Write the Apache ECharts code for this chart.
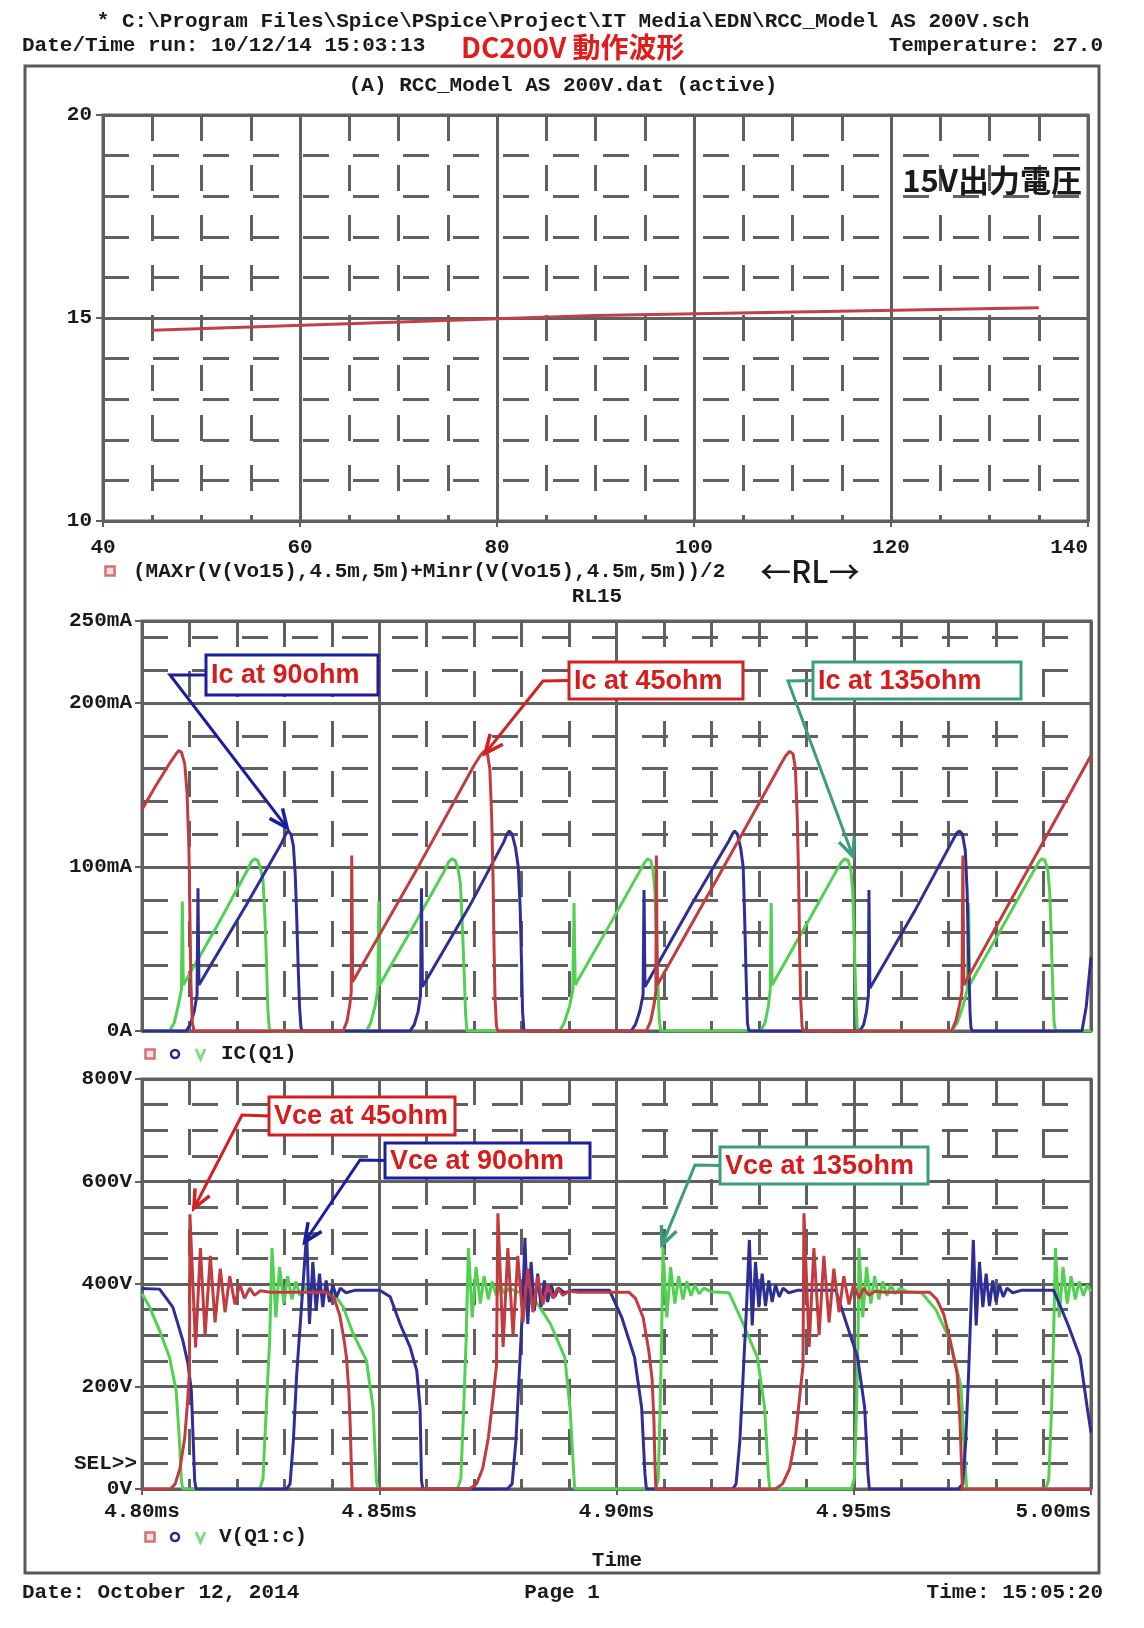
<!DOCTYPE html>
<html><head><meta charset="utf-8">
<script src="https://cdn.jsdelivr.net/npm/echarts@6/dist/echarts.min.js"></script>
<style>html,body{margin:0;padding:0;background:#fff;}#c{width:1144px;height:1628px;}</style>
</head><body><div id="c"></div>
<script>
// ---------------- DATA ----------------
// Top plot: average of Vo15 vs load resistance RL
const rlValues = [45, 90, 135];
const vo15Avg = [14.70, 15.06, 15.25];
const rlTickLabels = ['40', '60', '80', '100', '120', '140'];
const voTickLabels = ['10', '15', '20'];

// Time axis: microseconds after 4.80 ms
const timeTickLabels = ['4.80ms', '4.85ms', '4.90ms', '4.95ms', '5.00ms'];
const icTickValues = [0, 100, 200, 250];
const icTickLabels = ['0A', '100mA', '200mA', '250mA'];
const vceTickValues = [0, 200, 400, 600, 800];
const vceTickLabels = ['0V', '200V', '400V', '600V', '800V'];

// IC(Q1) [t(us), mA]
const ic45 = [[0,135],[3,150],[6,164],[7.2,169],[7.7,171],[8.3,170],[9.0,163],[9.5,145],[9.9,110],[10.1,70],[10.3,30],[10.6,5],[11,0],[42.4,0],[43.2,6],[43.8,16],[44.1,24],[44.2,107],[44.35,107],[44.4,30],[44.6,30],[58,99],[70,162],[71.3,168],[72.1,170.5],[72.8,169],[73.3,160],[73.7,130],[74,90],[74.2,50],[74.4,20],[74.7,3],[75,0],[106.3,0],[107.2,6],[107.9,16],[108.3,24],[108.4,107],[108.55,107],[108.6,28],[108.8,28],[122,97],[134.5,162],[135.7,168],[136.5,170.5],[137.2,169],[137.7,160],[138.1,130],[138.4,90],[138.6,50],[138.8,20],[139.1,3],[139.4,0],[170.6,0],[171.5,6],[172.3,16],[172.8,24],[173,107],[173.15,107],[173.2,28],[173.4,28],[187,100],[200,168]];
const ic90 = [[0,0],[9.3,0],[10.2,4],[11.0,12],[11.6,22],[11.8,87],[11.95,87],[12.0,28],[12.2,28],[22,77],[29.5,115],[30.3,120],[30.8,122],[31.4,120],[31.9,113],[32.3,95],[32.6,70],[32.9,40],[33.2,15],[33.5,2],[33.8,0],[56.5,0],[57.4,4],[58.2,12],[58.7,22],[58.9,87],[59.05,87],[59.1,27],[59.3,27],[69,76],[76.2,115],[76.9,120],[77.4,122],[78,120],[78.7,112],[79.3,100],[79.7,75],[80,40],[80.2,12],[80.5,0],[103.1,0],[104,4],[104.9,12],[105.6,22],[105.8,86],[105.95,86],[106,27],[106.3,28],[116,78],[123.7,116],[124.4,120],[124.9,122],[125.5,120],[126.2,111],[126.7,100],[127,70],[127.3,35],[127.6,5],[127.9,0],[151.3,0],[152.1,4],[152.7,12],[153.1,22],[153.2,86],[153.35,86],[153.4,26],[153.6,27],[163,74],[171,117],[171.8,121],[172.3,122],[172.9,120],[173.5,110],[173.9,85],[174.2,45],[174.5,12],[174.7,2],[175,0],[198.1,0],[199,15],[200,45]];
const ic135 = [[0,0],[5.8,0],[6.8,5],[7.6,15],[8.3,25],[8.5,79],[8.65,79],[8.7,28],[8.9,28],[16,65],[22.2,98],[23.0,103],[23.7,105],[24.4,104],[25.0,99],[25.5,92],[25.9,70],[26.2,45],[26.5,15],[26.8,2],[27.1,0],[47.3,0],[48.2,5],[49.1,15],[49.7,25],[49.9,79],[50.05,79],[50.1,28],[50.3,28],[58,68],[63.8,98],[64.6,103],[65.3,105],[66,104],[66.6,99],[67.1,90],[67.5,65],[67.9,35],[68.2,10],[68.5,0],[88,0],[89,5],[90.1,15],[90.8,25],[91.05,78],[91.2,78],[91.3,28],[91.5,28],[99,67],[105.2,99],[106,103],[106.6,105],[107.2,104],[107.7,98],[108.1,85],[108.4,60],[108.7,30],[109,8],[109.3,0],[130.4,0],[131.3,5],[132,15],[132.4,25],[132.6,78],[132.75,78],[132.8,28],[133,28],[141,70],[146.6,99],[147.4,103],[148.1,105],[148.8,104],[149.4,98],[149.8,85],[150.1,55],[150.4,25],[150.7,3],[151,0],[170.6,0],[171.8,5],[173,15],[173.9,25],[174.2,78],[174.35,78],[174.4,28],[174.6,28],[182,67],[188.2,99],[189,103],[189.6,105],[190.3,104],[190.9,98],[191.3,85],[191.6,60],[191.9,30],[192.2,6],[192.5,0],[200,0]];

// V(Q1:c) [t(us), V]
const vce45 = [[0,0],[6.0,0],[7.0,10],[8.0,40],[9.0,100],[9.6,170],[10.0,230],[10.1,536],[11.3,276],[12.3,470],[13.3,300],[14.4,455],[15.4,325],[16.5,430],[17.5,345],[18.5,415],[19.6,360],[20.6,400],[21.6,372],[22.7,392],[23.7,378],[25,387],[27,384],[38.9,384],[40.5,372],[41.7,338],[42.6,290],[43.1,256],[43.6,190],[43.9,120],[44.1,50],[44.3,0],[69,0],[70.5,10],[71.8,40],[73,100],[74,180],[74.7,240],[75,538],[76.1,277],[77.1,470],[78.2,300],[79.2,455],[80.3,325],[81.3,430],[82.4,345],[83.4,415],[84.5,360],[85.5,400],[86.6,372],[87.6,392],[88.7,378],[90,386],[92,384],[102.6,384],[104,372],[105.6,335],[106.8,270],[107.5,215],[107.9,130],[108.1,50],[108.3,0],[133.5,0],[135,10],[136.5,40],[137.7,100],[138.6,180],[139.3,240],[139.5,538],[140.6,277],[141.6,470],[142.7,300],[143.7,455],[144.8,325],[145.8,430],[146.9,345],[147.9,415],[149,360],[150,400],[151.1,372],[152.1,392],[153.2,378],[154.5,386],[156.5,384],[166,384],[167.5,370],[169,340],[170.3,290],[171.8,224],[172.4,130],[172.7,50],[172.9,0],[200,0]];
const vce90 = [[0,391],[3.7,390],[6.5,355],[8.6,290],[9.7,244],[10.4,192],[10.8,94],[11.1,16],[11.4,0],[30.5,0],[31.2,10],[31.9,94],[32.6,224],[33.6,354],[34.7,500],[35.3,322],[36,443],[36.7,348],[37.4,420],[38.1,355],[38.8,407],[39.5,365],[40.2,398],[41,375],[41.8,392],[43,383],[45,388],[50.1,388],[52.3,375],[54.4,322],[56.5,277],[57.9,231],[58.6,159],[58.9,16],[59.2,0],[77,0],[78,10],[78.8,94],[79.5,224],[80.2,354],[80.7,490],[81.3,322],[82,443],[82.7,348],[83.4,420],[84.1,355],[84.8,407],[85.5,365],[86.2,398],[87,375],[87.8,392],[89,383],[91,388],[98.5,388],[101.1,335],[103.8,257],[105.3,159],[106,29],[106.3,0],[124.5,0],[125.2,10],[126,94],[126.7,224],[127.4,354],[128,486],[128.6,319],[129.3,443],[130,355],[130.7,420],[131.4,357],[132.1,407],[132.8,365],[133.5,398],[134.3,375],[135.1,392],[136.3,383],[138.3,388],[146.2,388],[148.5,322],[150.8,257],[152.3,159],[153,29],[153.3,0],[172,0],[173,10],[173.6,94],[174.2,224],[174.7,354],[175.2,486],[175.8,319],[176.5,443],[177.2,355],[177.9,420],[178.6,357],[179.3,407],[180,365],[180.7,398],[181.5,375],[182.3,392],[183.5,383],[185.5,388],[192.1,388],[195.1,322],[197.7,257],[199.2,159],[200,110]];
const vce135 = [[0,381],[1.6,355],[3.7,309],[5.8,257],[7.2,192],[7.9,94],[8.3,16],[8.6,0],[24.8,0],[25.5,20],[26.2,159],[26.9,289],[27.4,470],[28.2,335],[29,433],[29.9,362],[30.7,415],[31.6,370],[32.4,405],[33.3,377],[34.1,398],[35,381],[36,392],[37.5,385],[40.3,383],[42.4,355],[44.5,303],[47.3,251],[48.7,159],[49.4,16],[49.7,0],[66.5,0],[67.2,20],[67.8,159],[68.3,289],[68.8,470],[69.6,335],[70.4,433],[71.3,362],[72.1,415],[73,370],[73.8,405],[74.7,377],[75.5,398],[76.4,381],[77.4,392],[78.9,385],[81.7,383],[83.8,355],[86.1,322],[89.1,257],[90.2,159],[91,29],[91.2,0],[108.3,0],[108.8,20],[109.2,159],[109.5,289],[109.8,470],[110.6,335],[111.4,433],[112.3,362],[113.1,415],[114,370],[114.8,405],[115.7,377],[116.5,398],[117.4,381],[118.4,392],[119.9,385],[123.7,383],[126.7,322],[129.7,257],[131.2,159],[132,29],[132.3,0],[149.5,0],[150.1,20],[150.6,159],[150.9,289],[151.1,470],[151.9,335],[152.7,433],[153.6,362],[154.4,415],[155.3,370],[156.1,405],[157,377],[157.8,398],[158.7,381],[159.7,392],[161.2,385],[164.3,383],[167.3,350],[170.3,290],[172.6,200],[173.3,80],[173.8,0],[190.5,0],[191.1,20],[191.7,159],[192.1,289],[192.5,470],[193.3,335],[194.1,433],[195,362],[195.8,415],[196.7,370],[197.5,405],[198.4,377],[199.2,398],[200,385]];

// ---------------- STYLE ----------------
const GRIDC = '#606060';
const MONO = '"Liberation Mono","DejaVu Sans Mono",monospace';
const SANS = '"Liberation Sans",Arial,sans-serif';
const CJK = '"Noto Sans CJK JP","Noto Sans CJK SC",sans-serif';
const TXT = '#1a1a1a';
const RED = '#c23b3f', BLUE = '#2e2e96', GREEN = '#52d052';
const lbl = {fontFamily: MONO, fontWeight: 'bold', fontSize: 21, color: TXT};
const major = {show: true, lineStyle: {color: GRIDC, width: 3, type: 'solid'}};
const minor = {show: true, lineStyle: {color: GRIDC, width: 3, type: [26, 24], dashOffset: 0}};
const noLine = {show: false};

const option = {
  animation: false,
  backgroundColor: '#fff',
  grid: [
    {left: 103, top: 115, width: 985, height: 406, show: true, borderColor: GRIDC, borderWidth: 3, outerBoundsMode: 'none'},
    {left: 142, top: 621, width: 949, height: 410, show: true, borderColor: GRIDC, borderWidth: 3, outerBoundsMode: 'none'},
    {left: 142, top: 1079, width: 949, height: 410, show: true, borderColor: GRIDC, borderWidth: 3, outerBoundsMode: 'none'}
  ],
  xAxis: [
    {type: 'value', gridIndex: 0, min: 40, max: 140, interval: 20,
     axisLine: noLine, axisTick: {show: true, length: 6, lineStyle: {color: GRIDC, width: 2}},
     axisLabel: Object.assign({}, lbl, {margin: 16, alignMaxLabel: 'right', formatter: v => rlTickLabels[Math.round((v - 40) / 20)]}),
     splitLine: major, minorTick: {show: false, splitNumber: 4}, minorSplitLine: minor},
    {type: 'value', gridIndex: 1, min: 0, max: 200, interval: 50,
     axisLine: noLine, axisTick: noLine, axisLabel: noLine,
     splitLine: major, minorTick: {show: false, splitNumber: 5}, minorSplitLine: minor},
    {type: 'value', gridIndex: 2, min: 0, max: 200, interval: 50,
     axisLine: noLine, axisTick: {show: true, length: 6, lineStyle: {color: GRIDC, width: 2}},
     axisLabel: Object.assign({}, lbl, {margin: 12, alignMaxLabel: 'right', formatter: v => timeTickLabels[Math.round(v / 50)]}),
     splitLine: major, minorTick: {show: false, splitNumber: 5}, minorSplitLine: minor}
  ],
  yAxis: [
    {type: 'value', gridIndex: 0, min: 10, max: 20, interval: 5,
     axisLine: noLine, axisTick: {show: true, length: 7, lineStyle: {color: GRIDC, width: 2}},
     axisLabel: Object.assign({}, lbl, {margin: 11, formatter: v => voTickLabels[Math.round((v - 10) / 5)]}),
     splitLine: major, minorTick: {show: false, splitNumber: 5}, minorSplitLine: minor},
    {type: 'value', gridIndex: 1, min: 0, max: 250, interval: 100,
     axisLine: noLine, axisTick: {show: true, length: 7, lineStyle: {color: GRIDC, width: 2}},
     axisLabel: Object.assign({}, lbl, {margin: 10, formatter: v => {const i = icTickValues.indexOf(Math.round(v)); return i >= 0 ? icTickLabels[i] : '';}}),
     splitLine: major, z: 1},
    {type: 'value', gridIndex: 1, min: 0, max: 250, interval: 20,
     axisLine: noLine, axisTick: noLine, axisLabel: noLine, splitLine: minor, z: 0},
    {type: 'value', gridIndex: 2, min: 0, max: 800, interval: 200,
     axisLine: noLine, axisTick: {show: true, length: 7, lineStyle: {color: GRIDC, width: 2}},
     axisLabel: Object.assign({}, lbl, {margin: 10, formatter: v => {const i = vceTickValues.indexOf(Math.round(v)); return i >= 0 ? vceTickLabels[i] : '';}}),
     splitLine: major, minorTick: {show: false, splitNumber: 4}, minorSplitLine: minor}
  ],
  series: [
    {type: 'line', xAxisIndex: 0, yAxisIndex: 0, data: rlValues.map((r, i) => [r, vo15Avg[i]]),
     showSymbol: false, lineStyle: {color: '#c0404a', width: 3}, z: 5},
    {type: 'line', xAxisIndex: 1, yAxisIndex: 1, data: ic135, showSymbol: false, lineStyle: {color: GREEN, width: 3}, z: 5},
    {type: 'line', xAxisIndex: 1, yAxisIndex: 1, data: ic90, showSymbol: false, lineStyle: {color: BLUE, width: 3}, z: 6},
    {type: 'line', xAxisIndex: 1, yAxisIndex: 1, data: ic45, showSymbol: false, lineStyle: {color: RED, width: 3}, z: 7},
    {type: 'line', xAxisIndex: 2, yAxisIndex: 3, data: vce135, showSymbol: false, lineStyle: {color: GREEN, width: 3}, z: 5},
    {type: 'line', xAxisIndex: 2, yAxisIndex: 3, data: vce90, showSymbol: false, lineStyle: {color: BLUE, width: 3}, z: 6},
    {type: 'line', xAxisIndex: 2, yAxisIndex: 3, data: vce45, showSymbol: false, lineStyle: {color: RED, width: 3}, z: 7}
  ]
};

const chart = echarts.init(document.getElementById('c'), null, {renderer: 'canvas', width: 1144, height: 1628});
chart.setOption(option);

// ---------------- GRAPHICS (texts, frame, callouts) ----------------
function txt(x, y, text, o) {
  o = o || {};
  return {type: 'text', x: x, y: y, z: 50, style: {text: text, fill: o.fill || TXT,
    font: o.font || ('bold 21px ' + MONO), align: o.align || 'left', verticalAlign: 'middle'}};
}
function legendSyms(x, y) {
  return [
    {type: 'rect', z: 50, shape: {x: x - 4.5, y: y - 4.5, width: 9, height: 9}, style: {fill: '#fbe3e3', stroke: '#d87070', lineWidth: 2.5}},
    {type: 'circle', z: 50, shape: {cx: x + 25, cy: y, r: 4}, style: {fill: '#fff', stroke: '#26268a', lineWidth: 2.5}},
    {type: 'polyline', z: 50, shape: {points: [[x + 46, y - 5], [x + 50.5, y + 5], [x + 55, y - 5]]}, style: {fill: null, stroke: '#7fdc7f', lineWidth: 3}}
  ];
}
function callout(box, text, color, elbow, tip) {
  const els = [];
  const start = [box[0], box[1] + box[3] / 2];
  els.push({type: 'polyline', z: 60, shape: {points: [start, elbow, tip]}, style: {fill: null, stroke: color, lineWidth: 3}});
  const dx = tip[0] - elbow[0], dy = tip[1] - elbow[1], L = Math.hypot(dx, dy);
  const ux = dx / L, uy = dy / L, a = 0.42, len = 20;
  const p1 = [tip[0] - len * (ux * Math.cos(a) - uy * Math.sin(a)), tip[1] - len * (uy * Math.cos(a) + ux * Math.sin(a))];
  const p2 = [tip[0] - len * (ux * Math.cos(a) + uy * Math.sin(a)), tip[1] - len * (uy * Math.cos(a) - ux * Math.sin(a))];
  els.push({type: 'polyline', z: 60, shape: {points: [p1, tip, p2]}, style: {fill: null, stroke: color, lineWidth: 3.5}});
  els.push({type: 'rect', z: 60, shape: {x: box[0], y: box[1], width: box[2], height: box[3]}, style: {fill: '#fff', stroke: color, lineWidth: 3}});
  els.push({type: 'text', z: 61, x: box[0] + 5, y: box[1] + box[3] / 2 + 1, style: {text: text, fill: '#d81c1c', font: 'bold 27px ' + SANS, verticalAlign: 'middle'}});
  return els;
}
const icPx = p => chart.convertToPixel({xAxisIndex: 1, yAxisIndex: 1}, p);
const vPx = p => chart.convertToPixel({xAxisIndex: 2, yAxisIndex: 3}, p);

let g = [];
g.push({type: 'rect', z: 40, shape: {x: 25, y: 66, width: 1074, height: 1507}, style: {fill: null, stroke: '#5a5a5a', lineWidth: 3}});
g.push(txt(563, 22, '* C:\\Program Files\\Spice\\PSpice\\Project\\IT Media\\EDN\\RCC_Model AS 200V.sch', {align: 'center'}));
g.push(txt(22, 46, 'Date/Time run: 10/12/14 15:03:13'));
g.push(txt(1103, 46, 'Temperature: 27.0', {align: 'right'}));
g.push(txt(461, 47, 'DC200V 動作波形', {fill: '#e21c1c', font: 'bold 28px ' + CJK}));
g.push(txt(563, 86, '(A) RCC_Model AS 200V.dat (active)', {align: 'center'}));
g.push(txt(1082, 180, '15V出力電圧', {align: 'right', font: 'bold 31px ' + CJK}));
g.push({type: 'rect', z: 50, shape: {x: 105.5, y: 566.5, width: 9, height: 9}, style: {fill: '#fbe3e3', stroke: '#d87070', lineWidth: 2.5}});
g.push(txt(133, 572, '(MAXr(V(Vo15),4.5m,5m)+Minr(V(Vo15),4.5m,5m))/2'));
g.push(txt(760, 571, '←RL→', {font: '500 31px ' + CJK}));
g.push(txt(597, 597, 'RL15', {align: 'center'}));
g = g.concat(legendSyms(150, 1054));
g.push(txt(221, 1054, 'IC(Q1)'));
g.push(txt(137, 1464, 'SEL>>', {align: 'right'}));
g = g.concat(legendSyms(150, 1537));
g.push(txt(219, 1537, 'V(Q1:c)'));
g.push(txt(617, 1561, 'Time', {align: 'center'}));
g.push(txt(22, 1593, 'Date: October 12, 2014'));
g.push(txt(562, 1593, 'Page 1', {align: 'center'}));
g.push(txt(1103, 1593, 'Time: 15:05:20', {align: 'right'}));

// callouts anchored to waveform peaks
let tip;
tip = icPx([30.8, 122]); g = g.concat(callout([206, 655, 172, 40], 'Ic at 90ohm', '#1c1ca0', [170, 675], [tip[0] - 1, tip[1] - 3]));
tip = icPx([72.1, 170.5]); g = g.concat(callout([569, 662, 174, 37], 'Ic at 45ohm', '#d42020', [543, 681], [tip[0] + 1, tip[1] + 2]));
tip = icPx([149.0, 104]); g = g.concat(callout([813, 662, 208, 37], 'Ic at 135ohm', '#3c9c7c', [788, 681], [tip[0] + 4, tip[1] - 4]));
tip = vPx([10.1, 536]); g = g.concat(callout([269, 1097, 186, 38], 'Vce at 45ohm', '#d42020', [242, 1115], [tip[0] + 4, tip[1] - 6]));
tip = vPx([34.7, 482]); g = g.concat(callout([385, 1143, 205, 35], 'Vce at 90ohm', '#1c1ca0', [360, 1160], [tip[0] - 2, tip[1]]));
tip = vPx([109.8, 470]); g = g.concat(callout([720, 1147, 208, 37], 'Vce at 135ohm', '#3c9c7c', [695, 1165], [tip[0] - 1, tip[1] - 3]));

chart.setOption({graphic: g});
</script>
</body></html>
